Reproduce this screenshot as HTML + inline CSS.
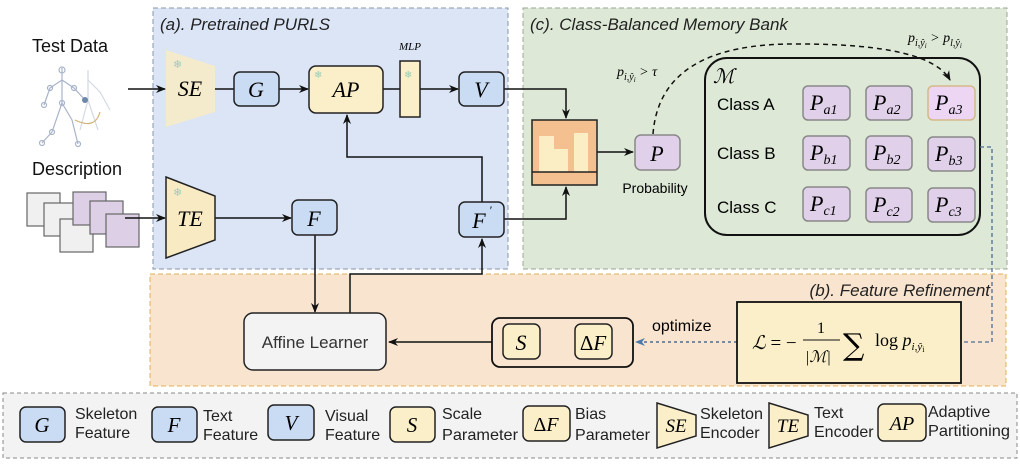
<!DOCTYPE html>
<html><head><meta charset="utf-8"><style>
html,body{margin:0;padding:0;background:#fff;}
svg{display:block;}
text{font-family:"Liberation Sans",sans-serif;}
.m,.m text{font-family:"Liberation Serif",serif;font-style:italic;}
.s{font-family:"Liberation Serif",serif;}
.dj{font-family:"DejaVu Serif",serif;}
</style></head><body>
<svg width="1020" height="469" viewBox="0 0 1020 469" xmlns="http://www.w3.org/2000/svg">
<defs>
<marker id="ar" markerWidth="10" markerHeight="10" refX="9" refY="5" orient="auto" markerUnits="userSpaceOnUse"><path d="M0,1 L10,5 L0,9 L3,5 z" fill="#111"/></marker>
<marker id="ab" markerWidth="10" markerHeight="10" refX="9" refY="5" orient="auto" markerUnits="userSpaceOnUse"><path d="M0,1 L10,5 L0,9 L3,5 z" fill="#4a7aa6"/></marker>
</defs>
<rect x="153" y="8" width="355" height="261" fill="#dbe5f6" stroke="#8a95a8" stroke-dasharray="5,3"/>
<rect x="523" y="8" width="484" height="261" fill="#dde8d6" stroke="#9aa896" stroke-dasharray="5,3"/>
<rect x="150" y="274" width="856" height="112" fill="#f9e4d0" stroke="#e0b055" stroke-dasharray="5,3"/>
<rect x="3" y="393" width="1014" height="65" fill="#f3f3f3" stroke="#888" stroke-dasharray="4,3"/>
<text x="160" y="30" font-size="17" font-style="italic" fill="#222">(a). Pretrained PURLS</text>
<text x="530" y="30" font-size="17" font-style="italic" fill="#222">(c). Class-Balanced Memory Bank</text>
<text x="990" y="296" font-size="17" font-style="italic" fill="#222" text-anchor="end">(b). Feature Refinement</text>

<text x="32" y="52" font-size="18" fill="#111">Test Data</text>
<text x="32" y="175" font-size="18" fill="#111">Description</text>
<g stroke="#9aa7c0" stroke-width="1.2" fill="none" opacity="0.85">
<path d="M62,73 L62,103 L52,132 L42,143 M62,103 L72,120 L78,144 M62,80 L50,88 L44,105 M62,80 L74,88 L85,100 M62,68 L62,73"/>
<circle cx="62" cy="70" r="3"/><circle cx="50" cy="88" r="2.5"/><circle cx="44" cy="105" r="2.5"/><circle cx="74" cy="88" r="2.5"/>
<circle cx="52" cy="132" r="2.5"/><circle cx="42" cy="143" r="2.5"/><circle cx="78" cy="144" r="2.5"/><circle cx="62" cy="103" r="2.5"/>
<path d="M88,70 L88,100 L98,130 M88,80 L100,92 L110,110 M88,100 L80,130" opacity="0.5"/>
<path d="M75,120 Q95,130 100,112" stroke="#c8a860"/>
</g>
<circle cx="85" cy="100" r="3" fill="#6a88aa"/>
<g stroke="#666" stroke-width="1.2">
<rect x="27" y="193" width="33" height="33" fill="#f0f0f0"/>
<rect x="44" y="203" width="33" height="33" fill="#f0f0f0"/>
<rect x="60" y="219" width="33" height="33" fill="#f0f0f0"/>
<rect x="73" y="192" width="33" height="33" fill="#ddd0e6"/>
<rect x="90" y="201" width="33" height="33" fill="#ddd0e6"/>
<rect x="106" y="214" width="33" height="33" fill="#ddd0e6"/>
</g>
<g stroke="#111" stroke-width="1.5" fill="none">
<path d="M128,89 L165,89" marker-end="url(#ar)"/>
<path d="M125,218 L165,218" marker-end="url(#ar)"/>
<path d="M215,89 L234,89"/>
<path d="M279,89 L308,89" marker-end="url(#ar)"/>
<path d="M383,89 L400,89"/>
<path d="M420,89 L458,89" marker-end="url(#ar)"/>
<path d="M215,218 L291,218" marker-end="url(#ar)"/>
<path d="M482,202 L482,157 L347,157 L347,115" marker-end="url(#ar)"/>
<path d="M504,89 L566,89 L566,118" marker-end="url(#ar)"/>
<path d="M504,219 L566,219 L566,187" marker-end="url(#ar)"/>
<path d="M597,152 L633,152" marker-end="url(#ar)"/>
<path d="M315,235 L315,312" marker-end="url(#ar)"/>
<path d="M350,313 L350,274 L482,274 L482,239" marker-end="url(#ar)"/>
<path d="M492,342 L389,342" marker-end="url(#ar)"/>
</g>
<path d="M166,50 L215,66 L215,112 L166,127 z" fill="#f8ebc4" opacity="0.85"/>
<text x="190" y="96" font-size="22" class="m" text-anchor="middle">SE</text>
<path d="M166,177 L215,196 L215,240 L166,258 z" fill="#f8ebc4" stroke="#222" stroke-width="1.5"/>
<text x="190" y="226" font-size="22" class="m" text-anchor="middle">TE</text>
<text x="173" y="68" font-size="11" fill="#9cb">❄</text>
<text x="173" y="196" font-size="11" fill="#9cb">❄</text>
<g stroke="#222" stroke-width="1.5">
<rect x="234" y="72" width="45" height="34" rx="6" fill="#c9dcf3"/>
<rect x="309" y="66" width="74" height="47" rx="7" fill="#fbefc9"/>
<rect x="400" y="61" width="20" height="56" fill="#fbefc9"/>
<rect x="459" y="72" width="45" height="34" rx="6" fill="#c9dcf3"/>
<rect x="292" y="200" width="45" height="35" rx="6" fill="#c9dcf3"/>
<rect x="459" y="202" width="45" height="35" rx="6" fill="#c9dcf3"/>
</g>
<text x="314" y="78" font-size="10" fill="#9cb">❄</text>
<text x="404" y="78" font-size="10" fill="#9cb">❄</text>
<text x="410" y="50" font-size="11" class="m" text-anchor="middle">MLP</text>
<text x="256" y="97" font-size="22" class="m" text-anchor="middle">G</text>
<text x="346" y="97" font-size="22" class="m" text-anchor="middle">AP</text>
<text x="481" y="97" font-size="22" class="m" text-anchor="middle">V</text>
<text x="314" y="226" font-size="22" class="m" text-anchor="middle">F</text>
<text x="479" y="228" font-size="22" class="m" text-anchor="middle">F</text><text x="489" y="214" font-size="12" class="m">′</text>
<rect x="532" y="120" width="65" height="65" fill="#f4c08f" stroke="#222" stroke-width="1.5"/>
<rect x="539" y="136" width="15" height="36" fill="#fbeec5"/>
<rect x="554" y="149" width="14" height="23" fill="#fbeec5"/>
<rect x="574" y="133" width="14" height="39" fill="#fbeec5"/>
<path d="M532,172 L597,172" stroke="#222" stroke-width="1.5"/>
<rect x="635" y="135" width="45" height="35" rx="6" fill="#e0d0ea" stroke="#888" stroke-width="1.5"/>
<text x="657" y="161" font-size="22" class="m" text-anchor="middle">P</text>
<text x="655" y="193" font-size="14" text-anchor="middle">Probability</text>
<path d="M653,134 Q660,42 800,44 Q930,44 950,80" fill="none" stroke="#111" stroke-width="1.5" stroke-dasharray="5,4" marker-end="url(#ar)"/>
<text x="617" y="76" font-size="14" class="m">p<tspan font-size="10" dy="4">i,ŷ</tspan><tspan font-size="7" dy="2">i</tspan><tspan dy="-6"> &gt; τ</tspan></text>
<text x="908" y="42" font-size="14" class="m">p<tspan font-size="10" dy="4">i,ŷ</tspan><tspan font-size="7" dy="2">i</tspan><tspan dy="-6"> &gt; p</tspan><tspan font-size="10" dy="4">l,ŷ</tspan><tspan font-size="7" dy="2">i</tspan></text>
<rect x="705" y="58" width="275" height="177" rx="22" fill="none" stroke="#111" stroke-width="2"/>
<text x="713" y="83" font-size="20" class="dj" font-style="italic">ℳ</text>
<text x="717" y="110" font-size="17">Class A</text>
<text x="717" y="159" font-size="17">Class B</text>
<text x="717" y="213" font-size="17">Class C</text>
<g stroke="#888" stroke-width="1.5" fill="#e0d0ea">
<rect x="803" y="86" width="47" height="34" rx="5"/><rect x="866" y="86" width="46" height="34" rx="5"/><rect x="928" y="86" width="47" height="34" rx="5" fill="#ecd6f3" stroke="#d6b88a"/>
<rect x="803" y="136" width="47" height="34" rx="5"/><rect x="866" y="136" width="46" height="34" rx="5"/><rect x="928" y="137" width="47" height="34" rx="5"/>
<rect x="803" y="187" width="47" height="34" rx="5"/><rect x="866" y="188" width="46" height="34" rx="5"/><rect x="928" y="188" width="47" height="34" rx="5"/>
</g>
<g font-size="22" class="m">
<text x="810" y="110">P<tspan font-size="14" dy="4">a1</tspan></text>
<text x="873" y="110">P<tspan font-size="14" dy="4">a2</tspan></text>
<text x="935" y="110">P<tspan font-size="14" dy="4">a3</tspan></text>
<text x="810" y="160">P<tspan font-size="14" dy="4">b1</tspan></text>
<text x="873" y="160">P<tspan font-size="14" dy="4">b2</tspan></text>
<text x="935" y="161">P<tspan font-size="14" dy="4">b3</tspan></text>
<text x="810" y="211">P<tspan font-size="14" dy="4">c1</tspan></text>
<text x="873" y="212">P<tspan font-size="14" dy="4">c2</tspan></text>
<text x="935" y="212">P<tspan font-size="14" dy="4">c3</tspan></text>
</g>
<path d="M980,147 L992,147 L992,342 L962,342" fill="none" stroke="#4a6e96" stroke-width="1.3" stroke-dasharray="4,3"/>
<path d="M737,342 L636,342" fill="none" stroke="#4a6e96" stroke-width="1.5" stroke-dasharray="3,3" marker-end="url(#ab)"/>
<rect x="737" y="302" width="224" height="81" fill="#fbefc9" stroke="#111" stroke-width="1.8"/>
<text x="752" y="349" font-size="19" class="s"><tspan font-style="italic">ℒ</tspan> = −</text>
<text x="817" y="333" font-size="16" class="s">1</text>
<path d="M803,340 L840,340" stroke="#111" stroke-width="1"/>
<text x="805" y="362" font-size="16" class="m">|ℳ|</text>
<text x="843" y="355" font-size="30" class="dj">∑</text>
<text x="875" y="346" font-size="18" class="s">log <tspan font-style="italic">p</tspan><tspan font-size="11" font-style="italic" dy="4">i,ŷ</tspan><tspan font-size="8" dy="2">i</tspan></text>
<text x="652" y="331" font-size="16">optimize</text>
<rect x="492" y="318" width="141" height="49" rx="8" fill="#f9e4d0" stroke="#111" stroke-width="1.8"/>
<rect x="503" y="324" width="37" height="35" rx="6" fill="#fbefc9" stroke="#222" stroke-width="1.5"/>
<rect x="575" y="324" width="37" height="35" rx="6" fill="#fbefc9" stroke="#222" stroke-width="1.5"/>
<text x="521" y="350" font-size="22" class="m" text-anchor="middle">S</text>
<text x="593" y="350" font-size="21" class="s" text-anchor="middle">Δ<tspan font-style="italic">F</tspan></text>
<rect x="244" y="313" width="142" height="57" rx="9" fill="#f3f3f3" stroke="#222" stroke-width="1.5"/>
<text x="315" y="348" font-size="17" fill="#333" text-anchor="middle">Affine Learner</text>
<!-- legend -->
<g stroke="#222" stroke-width="1.5">
<rect x="20" y="407" width="45" height="35" rx="6" fill="#c9dcf3"/>
<rect x="152" y="407" width="45" height="35" rx="6" fill="#c9dcf3"/>
<rect x="268" y="405" width="46" height="35" rx="6" fill="#c9dcf3"/>
<rect x="390" y="407" width="45" height="35" rx="6" fill="#fbefc9"/>
<rect x="523" y="406" width="47" height="35" rx="6" fill="#fbefc9"/>
<path d="M657,403 L696,415 L696,436 L657,448 z" fill="#fbefc9"/>
<path d="M769,403 L808,415 L808,436 L769,448 z" fill="#fbefc9"/>
<rect x="878" y="404" width="48" height="37" rx="6" fill="#fbefc9"/>
</g>
<g font-size="21" class="m" text-anchor="middle">
<text x="42" y="432">G</text><text x="174" y="432">F</text><text x="291" y="430">V</text><text x="412" y="432">S</text>
<text x="676" y="432" font-size="19">SE</text><text x="788" y="432" font-size="19">TE</text><text x="902" y="430" font-size="20">AP</text>
</g>
<text x="546" y="431" font-size="20" class="s" text-anchor="middle">Δ<tspan font-style="italic">F</tspan></text>
<g font-size="16" fill="#222">
<text x="75" y="419">Skeleton</text><text x="75" y="438">Feature</text>
<text x="203" y="421">Text</text><text x="203" y="440">Feature</text>
<text x="325" y="421">Visual</text><text x="325" y="440">Feature</text>
<text x="442" y="419">Scale</text><text x="442" y="440" textLength="76" lengthAdjust="spacingAndGlyphs">Parameter</text>
<text x="575" y="419">Bias</text><text x="575" y="440" textLength="75" lengthAdjust="spacingAndGlyphs">Parameter</text>
<text x="700" y="419" textLength="63" lengthAdjust="spacingAndGlyphs">Skeleton</text><text x="700" y="438">Encoder</text>
<text x="814" y="418">Text</text><text x="814" y="437">Encoder</text>
<text x="928" y="417">Adaptive</text><text x="928" y="436" textLength="82" lengthAdjust="spacingAndGlyphs">Partitioning</text>
</g>
</svg>
</body></html>
